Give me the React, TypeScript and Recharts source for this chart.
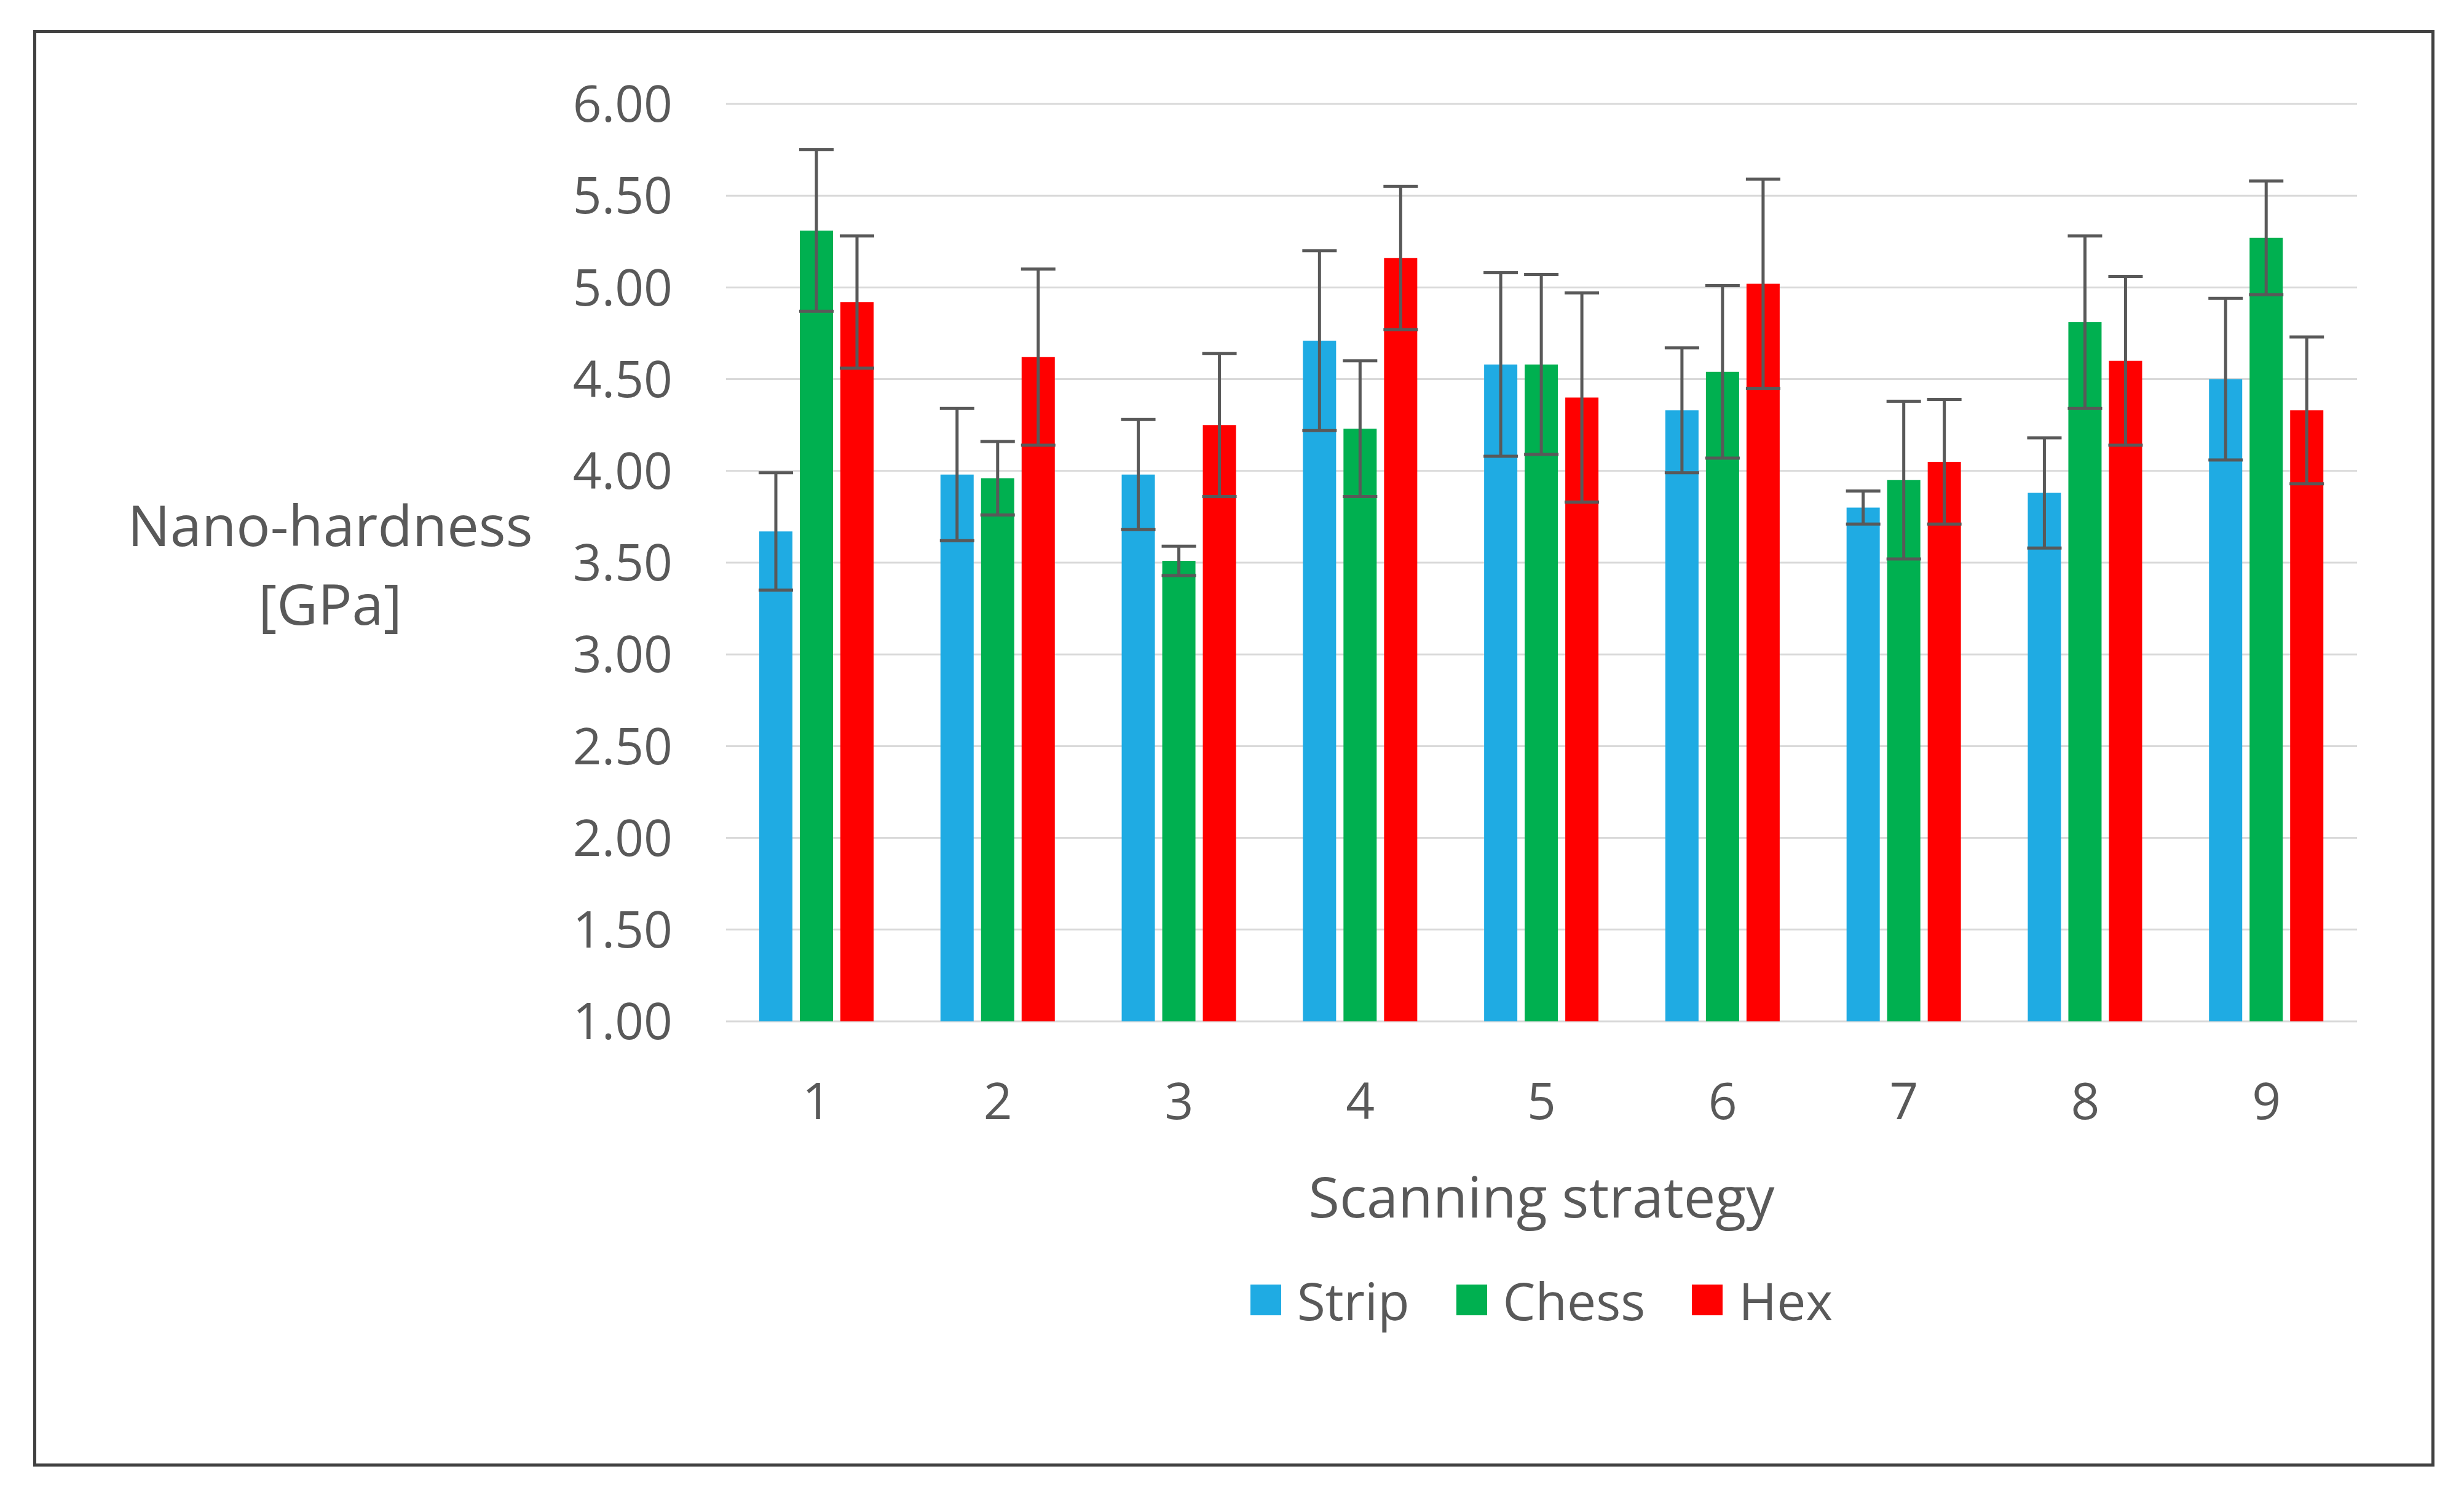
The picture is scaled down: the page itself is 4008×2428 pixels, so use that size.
import { BarChart, Bar, CartesianGrid, XAxis, YAxis, ErrorBar } from 'recharts'

const categories = ['1', '2', '3', '4', '5', '6', '7', '8', '9']

const strip = [3.67, 3.98, 3.98, 4.71, 4.58, 4.33, 3.8, 3.88, 4.5]
const stripErr = [0.32, 0.36, 0.3, 0.49, 0.5, 0.34, 0.09, 0.3, 0.44]

const chess = [5.31, 3.96, 3.51, 4.23, 4.58, 4.54, 3.95, 4.81, 5.27]
const chessErr = [0.44, 0.2, 0.08, 0.37, 0.49, 0.47, 0.43, 0.47, 0.31]

const hex = [4.92, 4.62, 4.25, 5.16, 4.4, 5.02, 4.05, 4.6, 4.33]
const hexErr = [0.36, 0.48, 0.39, 0.39, 0.57, 0.57, 0.34, 0.46, 0.4]

const yTicks = [1, 1.5, 2, 2.5, 3, 3.5, 4, 4.5, 5, 5.5, 6]

const series = [
  { key: 'strip', name: 'Strip', color: '#1FABE3' },
  { key: 'chess', name: 'Chess', color: '#00B050' },
  { key: 'hex', name: 'Hex', color: '#FF0000' },
]

const data = categories.map((name, i) => ({
  name,
  strip: strip[i],
  stripErr: stripErr[i],
  chess: chess[i],
  chessErr: chessErr[i],
  hex: hex[i],
  hexErr: hexErr[i],
}))

const TEXT = '#595959'

function YTitle(props: any) {
  const { viewBox } = props
  const cx = viewBox.x + 537
  return (
    <text x={cx} y={0} textAnchor="middle" fill={TEXT} fontSize={92}>
      <tspan x={cx} y={888}>Nano-hardness</tspan>
      <tspan x={cx} y={1016}>[GPa]</tspan>
    </text>
  )
}

function XTitle(props: any) {
  const { viewBox } = props
  return (
    <text
      x={viewBox.x + viewBox.width / 2}
      y={1980}
      textAnchor="middle"
      fill={TEXT}
      fontSize={92}
    >
      Scanning strategy
    </text>
  )
}

export default function App() {
  return (
    <div
      style={{
        position: 'absolute',
        left: 0,
        top: 0,
        width: 4008,
        height: 2428,
        background: '#FFFFFF',
        fontFamily: '"Open Sans", sans-serif',
      }}
    >
      <div
        style={{
          position: 'absolute',
          left: 54,
          top: 49,
          width: 3896,
          height: 2326,
          border: '5px solid #404040',
        }}
      />

      <div style={{ position: 'absolute', left: 0, top: 0 }}>
        <BarChart
          width={4008}
          height={2428}
          data={data}
          margin={{ top: 169, right: 174, bottom: 367, left: 0 }}
          barGap={12}
        >
          <CartesianGrid stroke="#D9D9D9" strokeWidth={3} vertical={false} />
          <XAxis
            dataKey="name"
            axisLine={false}
            tickLine={false}
            tickSize={0}
            tickMargin={101}
            height={400}
            tick={{ fill: TEXT, fontSize: 82 }}
            label={<XTitle />}
          />
          <YAxis
            domain={[1, 6]}
            ticks={yTicks}
            tickFormatter={(v: number) => v.toFixed(2)}
            axisLine={false}
            tickLine={false}
            tickSize={0}
            tickMargin={87}
            width={1181}
            tick={{ fill: TEXT, fontSize: 82 }}
            label={<YTitle />}
          />
          {series.map((s) => (
            <Bar
              key={s.key}
              dataKey={s.key}
              name={s.name}
              fill={s.color}
              barSize={54}
              isAnimationActive={false}
            >
              <ErrorBar
                dataKey={s.key + 'Err'}
                width={28}
                stroke="#595959"
                strokeWidth={5}
                isAnimationActive={false}
              />
            </Bar>
          ))}
        </BarChart>
      </div>

      <div
        style={{
          position: 'absolute',
          left: 1181,
          width: 3834 - 1181,
          top: 2114 - 60,
          height: 120,
          display: 'flex',
          justifyContent: 'center',
          alignItems: 'center',
          gap: 76,
        }}
      >
        {series.map((s) => (
          <div key={s.key} style={{ display: 'flex', alignItems: 'center' }}>
            <div
              style={{ width: 50, height: 50, background: s.color, marginRight: 26 }}
            />
            <span style={{ fontSize: 84, color: TEXT }}>{s.name}</span>
          </div>
        ))}
      </div>
    </div>
  )
}
